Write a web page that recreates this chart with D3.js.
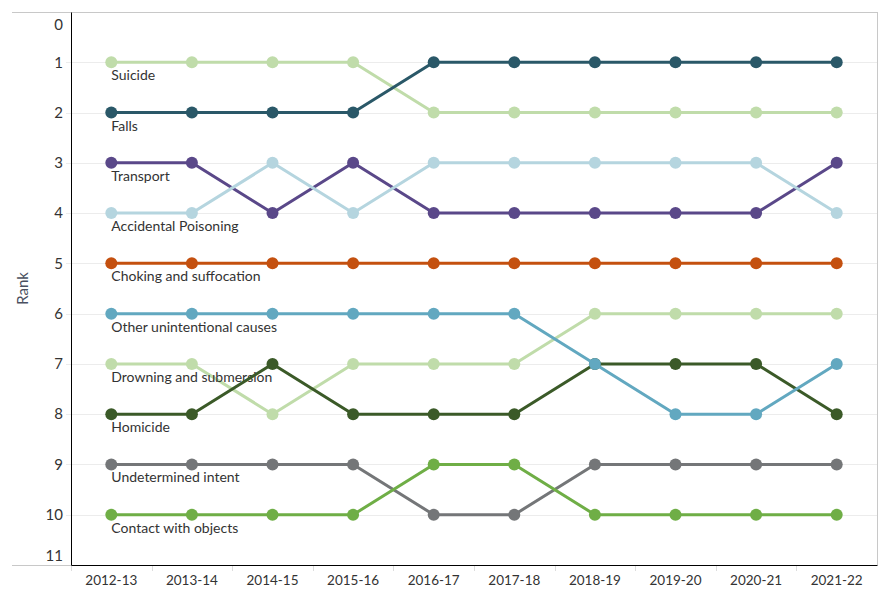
<!DOCTYPE html>
<html>
<head>
<meta charset="utf-8">
<script src="https://cdn.jsdelivr.net/npm/d3@7"></script>
<style>
  body { margin: 0; background: #fff; }
  text { font-family: Lato, "Noto Sans", sans-serif; }
</style>
</head>
<body>
<div id="my_dataviz"></div>
<script>
var years = ["2012-13","2013-14","2014-15","2015-16","2016-17","2017-18","2018-19","2019-20","2020-21","2021-22"];
var rankTicks = [0,1,2,3,4,5,6,7,8,9,10,11];

var suicide      = [1,1,1,1,2,2,2,2,2,2];
var falls        = [2,2,2,2,1,1,1,1,1,1];
var transport    = [3,3,4,3,4,4,4,4,4,3];
var poisoning    = [4,4,3,4,3,3,3,3,3,4];
var choking      = [5,5,5,5,5,5,5,5,5,5];
var drowning     = [7,7,8,7,7,7,6,6,6,6];
var homicide     = [8,8,7,8,8,8,7,7,7,8];
var otherCauses  = [6,6,6,6,6,6,7,8,8,7];
var undetermined = [9,9,9,9,10,10,9,9,9,9];
var contact      = [10,10,10,10,9,9,10,10,10,10];

// draw order matters where points overlap
var series = [
  { name: "Suicide", values: suicide, color: "#c0dcaa" },
  { name: "Falls", values: falls, color: "#2a5868" },
  { name: "Transport", values: transport, color: "#5a4889" },
  { name: "Accidental Poisoning", values: poisoning, color: "#b5d5df" },
  { name: "Choking and suffocation", values: choking, color: "#c4500f" },
  { name: "Drowning and submersion", values: drowning, color: "#c0dcaa" },
  { name: "Homicide", values: homicide, color: "#3b5a28" },
  { name: "Other unintentional causes", values: otherCauses, color: "#62a8c0" },
  { name: "Undetermined intent", values: undetermined, color: "#747678" },
  { name: "Contact with objects", values: contact, color: "#6fae46" }
];

var width = 890, height = 600;
var plotLeft = 71, plotRight = 877, plotTop = 12, plotBottom = 565;

var svg = d3.select("#my_dataviz")
  .append("svg")
  .attr("width", width)
  .attr("height", height);

var x = d3.scaleBand()
  .domain(years)
  .range([plotLeft, plotRight]);

var y = d3.scaleLinear()
  .domain([0, 11])
  .range([plotTop, plotBottom]);

// frame
svg.append("line")
  .attr("x1", 12).attr("x2", plotRight)
  .attr("y1", plotTop + 0.5).attr("y2", plotTop + 0.5)
  .attr("stroke", "#c8c8c8");
svg.append("line")
  .attr("x1", plotRight + 0.5).attr("x2", plotRight + 0.5)
  .attr("y1", plotTop).attr("y2", plotBottom)
  .attr("stroke", "#c8c8c8");
svg.append("line")
  .attr("x1", 12).attr("x2", plotLeft)
  .attr("y1", plotBottom + 0.5).attr("y2", plotBottom + 0.5)
  .attr("stroke", "#c8c8c8");

// gridlines
svg.append("g")
  .selectAll("line")
  .data(rankTicks.filter(function(d) { return d > 0 && d < 11; }))
  .join("line")
  .attr("x1", 66).attr("x2", plotRight)
  .attr("y1", function(d) { return Math.round(y(d)) + 0.5; })
  .attr("y2", function(d) { return Math.round(y(d)) + 0.5; })
  .attr("stroke", "#ececec");

// y axis
var yAxis = svg.append("g")
  .attr("transform", "translate(" + plotLeft + ",0)")
  .call(d3.axisLeft(y).tickValues(rankTicks).tickSize(0).tickPadding(8));
yAxis.select(".domain").attr("stroke", "#000");
yAxis.selectAll("text")
  .attr("font-size", 15)
  .attr("fill", "#333")
  .attr("dy", function(d) { return d == 0 ? "1.17em" : d == 11 ? "-0.3em" : "0.32em"; });

// x axis
var xAxis = svg.append("g")
  .attr("transform", "translate(0," + plotBottom + ")")
  .call(d3.axisBottom(x).tickSize(0).tickPadding(10));
xAxis.select(".domain").attr("stroke", "#000");
xAxis.selectAll("text")
  .attr("font-size", 13.5)
  .attr("fill", "#333");

svg.append("g")
  .selectAll("line")
  .data(years)
  .join("line")
  .attr("x1", function(d) { return Math.round(x(d)) + 0.5; })
  .attr("x2", function(d) { return Math.round(x(d)) + 0.5; })
  .attr("y1", plotBottom + 1).attr("y2", plotBottom + 6)
  .attr("stroke", "#ddd");

svg.append("text")
  .attr("transform", "translate(28," + ((plotTop + plotBottom) / 2) + ") rotate(-90)")
  .attr("text-anchor", "middle")
  .attr("font-size", 15)
  .attr("fill", "#4a5060")
  .text("Rank");

var cx = function(i) { return x(years[i]) + x.bandwidth() / 2; };

var line = d3.line()
  .x(function(d, i) { return cx(i); })
  .y(function(d) { return y(d); });

var groups = svg.append("g")
  .selectAll("g")
  .data(series)
  .join("g");

groups.append("path")
  .attr("fill", "none")
  .attr("stroke", function(d) { return d.color; })
  .attr("stroke-width", 3)
  .attr("d", function(d) { return line(d.values); });

groups.selectAll("circle")
  .data(function(d) { return d.values.map(function(v) { return { v: v, color: d.color }; }); })
  .join("circle")
  .attr("cx", function(d, i) { return cx(i); })
  .attr("cy", function(d) { return y(d.v); })
  .attr("r", 6)
  .attr("fill", function(d) { return d.color; });

groups.append("text")
  .attr("x", cx(0))
  .attr("y", function(d) { return y(d.values[0]) + 18; })
  .attr("font-size", 14)
  .attr("fill", "#333")
  .text(function(d) { return d.name; });
</script>
</body>
</html>
